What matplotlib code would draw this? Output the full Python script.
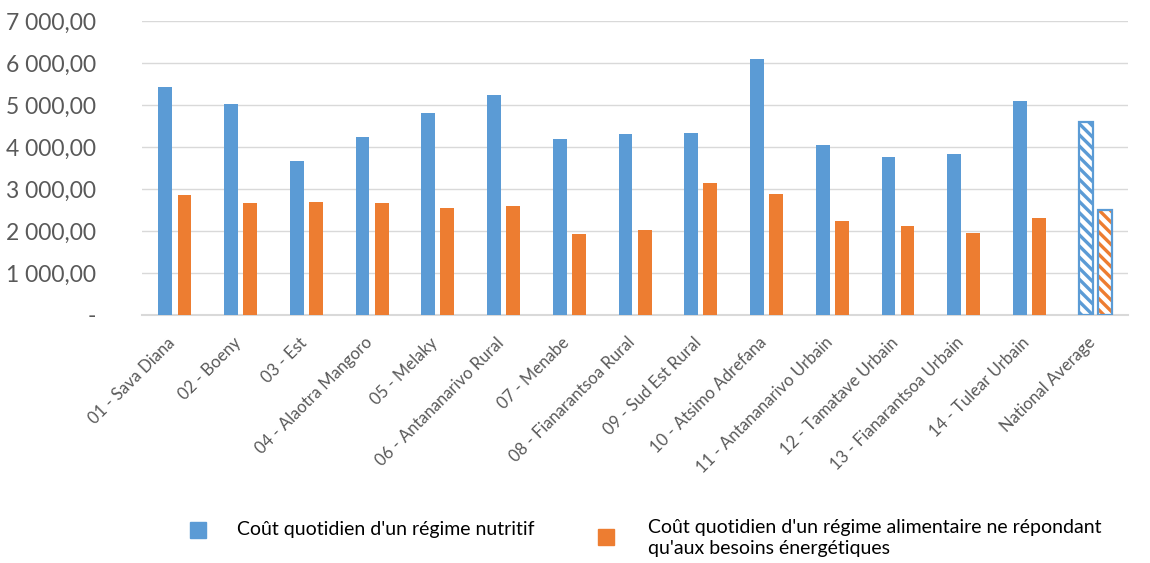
import numpy as np
import matplotlib.pyplot as plt
import matplotlib.ticker as ticker
import matplotlib.transforms as mtransforms
from matplotlib.patches import Rectangle

# Données
regions = ['01 - Sava Diana', '02 - Boeny', '03 - Est', '04 - Alaotra Mangoro', '05 - Melaky',
           '06 - Antananarivo Rural', '07 - Menabe', '08 - Fianarantsoa Rural', '09 - Sud Est Rural',
           '10 - Atsimo Adrefana', '11 - Antananarivo Urbain', '12 - Tamatave Urbain',
           '13 - Fianarantsoa Urbain', '14 - Tulear Urbain', 'National Average']
cout_nutritif = [5430, 5020, 3670, 4240, 4810, 5240, 4190, 4310, 4330, 6100, 4050, 3760, 3830, 5090, 4590]
cout_energie = [2860, 2670, 2690, 2670, 2550, 2600, 1930, 2020, 3140, 2880, 2240, 2120, 1950, 2310, 2500]
yticks = [0, 1000, 2000, 3000, 4000, 5000, 6000, 7000]

label_bleu = "Coût quotidien d'un régime nutritif"
label_orange = "Coût quotidien d'un régime alimentaire ne répondant\nqu'aux besoins énergétiques"

bleu = '#5b9bd5'
orange = '#ed7d31'
gris = '#595959'

plt.rcParams['font.family'] = ['Lato', 'DejaVu Sans']
plt.rcParams['hatch.linewidth'] = 2.4

fig = plt.figure(figsize=(11.5, 5.63), dpi=100)
ax = fig.add_axes([0.1235, 0.4405, 0.8575, 0.5222])

x = np.arange(len(regions))
w = 0.21
n = len(regions) - 1

# Barres régionales
ax.bar(x[:n] - 0.145, cout_nutritif[:n], w, color=bleu, zorder=3)
ax.bar(x[:n] + 0.145, cout_energie[:n], w, color=orange, zorder=3)

# Moyenne nationale (hachurée)
ax.bar(x[n] - 0.145, cout_nutritif[n], w, facecolor='white', edgecolor=bleu, hatch='\\\\\\', linewidth=0, zorder=3)
ax.bar(x[n] + 0.145, cout_energie[n], w, facecolor='white', edgecolor=orange, hatch='\\\\\\', linewidth=0, zorder=3)
ax.bar(x[n] - 0.145, cout_nutritif[n], w, facecolor='none', edgecolor=bleu, linewidth=1.6, zorder=4)
ax.bar(x[n] + 0.145, cout_energie[n], w, facecolor='none', edgecolor=bleu, linewidth=1.6, zorder=4)

# Axes
ax.set_xlim(-0.5, len(regions) - 0.5)
ax.set_ylim(0, 7000)
ax.set_yticks(yticks)


def fmt(v, pos):
    if v == 0:
        return '-'
    return f'{v:,.2f}'.replace(',', ' ').replace('.', ',')


ax.yaxis.set_major_formatter(ticker.FuncFormatter(fmt))
ax.set_xticks(x)
ax.set_xticklabels(regions, rotation=45, ha='right', va='top', rotation_mode='anchor',
                   fontsize=12, color=gris)
ax.tick_params(axis='y', labelsize=16.5, colors=gris, length=0, pad=33)
ax.tick_params(axis='x', length=0, pad=14)
decal = mtransforms.ScaledTranslation(-8 / 100, 0, fig.dpi_scale_trans)
for lab in ax.get_xticklabels():
    lab.set_transform(lab.get_transform() + decal)
for lab in ax.get_yticklabels():
    lab.set_color(gris)
ax.grid(axis='y', color='#d9d9d9', linewidth=1, zorder=0)
for s in ['top', 'right', 'left']:
    ax.spines[s].set_visible(False)
ax.spines['bottom'].set_color('#d9d9d9')
ax.spines['bottom'].set_linewidth(1.5)

# Légende (placée à la main comme dans Excel)
W, H = 1150, 563
fig.add_artist(Rectangle((190 / W, 1 - 538 / H), 16 / W, 16 / H, color=bleu, transform=fig.transFigure))
fig.text(237 / W, 1 - 530 / H, label_bleu, fontsize=14, va='center', ha='left', color='black')
fig.add_artist(Rectangle((598 / W, 1 - 545 / H), 16 / W, 16 / H, color=orange, transform=fig.transFigure))
fig.text(648 / W, 1 - 538 / H, label_orange, fontsize=14, va='center', ha='left', color='black',
         linespacing=1.25)

plt.savefig('out.png', dpi=100)
